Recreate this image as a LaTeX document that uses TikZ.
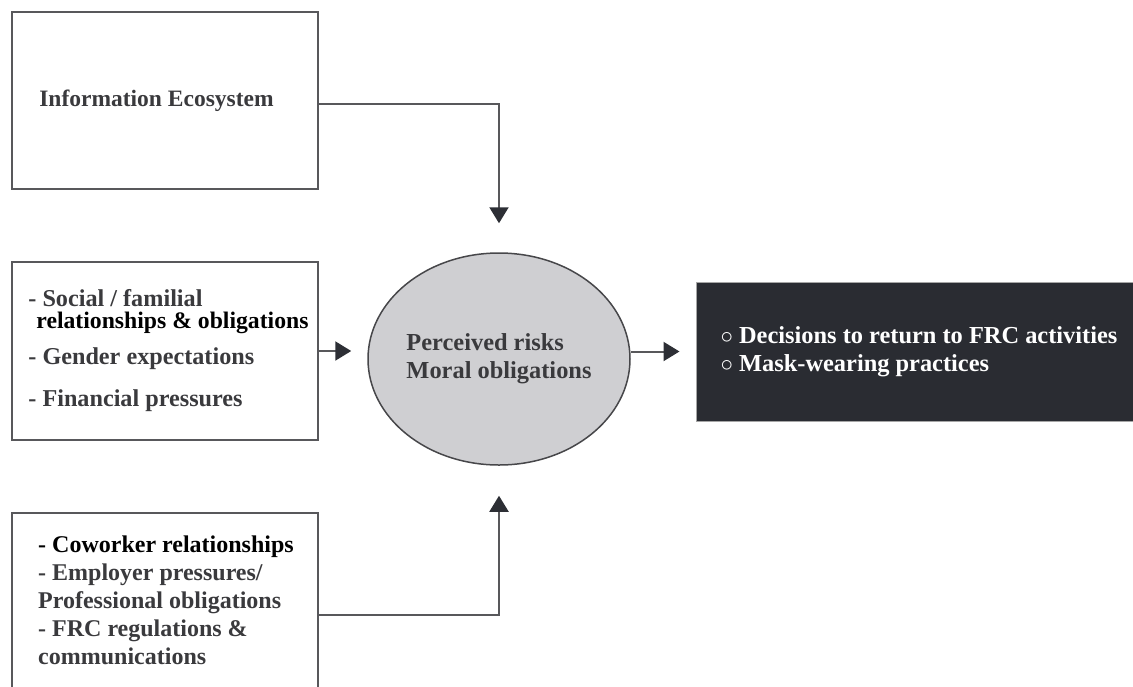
\documentclass[tikz,border=0pt]{standalone}
\usepackage{fontspec}
\setmainfont{Liberation Serif}
\usepackage{xcolor}
\usetikzlibrary{shapes.geometric, arrows.meta, positioning, calc}

\definecolor{txtgray}{HTML}{3A3A3D}
\definecolor{boxline}{HTML}{58585B}
\definecolor{ovalline}{HTML}{47474A}
\definecolor{ovalfill}{HTML}{CFCFD2}
\definecolor{darkbox}{HTML}{2A2C32}
\definecolor{tipdark}{HTML}{2D2F35}

\begin{document}
\begin{tikzpicture}[
    x=1pt, y=-1pt,
    factor/.style={rectangle, draw=boxline, line width=2pt, fill=white, minimum width=306pt, inner sep=0pt, text=txtgray, font=\bfseries\fontsize{24.2}{28}\selectfont, align=left},
    listtext/.style={text=txtgray, font=\bfseries\fontsize{24}{28}\selectfont, align=left, inner sep=0pt},
    oval/.style={ellipse, draw=ovalline, line width=1.5pt, fill=ovalfill, minimum width=262pt, minimum height=212pt, inner sep=0pt, text=txtgray, font=\bfseries\fontsize{24.4}{28}\selectfont, align=left},
    outcome/.style={rectangle, fill=darkbox, draw=gray!70, line width=1pt, minimum width=446pt, minimum height=139pt, inner sep=0pt, text=white, font=\bfseries\fontsize{24.4}{28}\selectfont, align=left},
    line/.style={draw=boxline, line width=2pt, -{Triangle[width=19pt, length=16pt, color=tipdark]}}
]
\useasboundingbox (0,0) rectangle (1133,686);
\clip (0,0) rectangle (1133,686);

% Facteurs
\node[factor, minimum height=177pt, font=\bfseries\fontsize{23.5}{28}\selectfont] (info) at (164.5,100.5) {Information Ecosystem\hspace*{16pt}};
\node[factor, minimum height=178pt] (social) at (165,351) {\hspace*{7pt}- Social / familial\\[-6pt]
    \hspace*{15pt}\textcolor{black}{\fontsize{23.7}{28}\selectfont relationships \& obligations}\\[8pt]
    \hspace*{7pt}- Gender expectations\\[14pt]
    \hspace*{7pt}- Financial pressures};
\node[factor, minimum height=204pt] (work) at (165,615) {};
\node[listtext, anchor=north west] (work_list) at (38,536) {\textcolor{black}{- Coworker relationships}\\
    - Employer pressures/\\
    Professional obligations\\
    - FRC regulations \&\\
    communications};

% Perception
\node[oval] (risks) at (499,359) {Perceived risks\\Moral obligations};

% Resultat
\node[outcome] (decision) at (919,351.5) {$\circ$ Decisions to return to FRC activities\\
    $\circ$ Mask-wearing practices};

% Connexions
\path[line, shorten >=29pt] ([yshift=-3.5pt]info.east) -| (risks.north);
\path[line, shorten >=16pt] (social.east) -- (social.east -| risks.west);
\path[line, shorten >=16pt] (risks.east |- decision.west) -- (decision.west);
\path[line, shorten >=30pt] (work.east) -| (risks.south);

\end{tikzpicture}
\end{document}
